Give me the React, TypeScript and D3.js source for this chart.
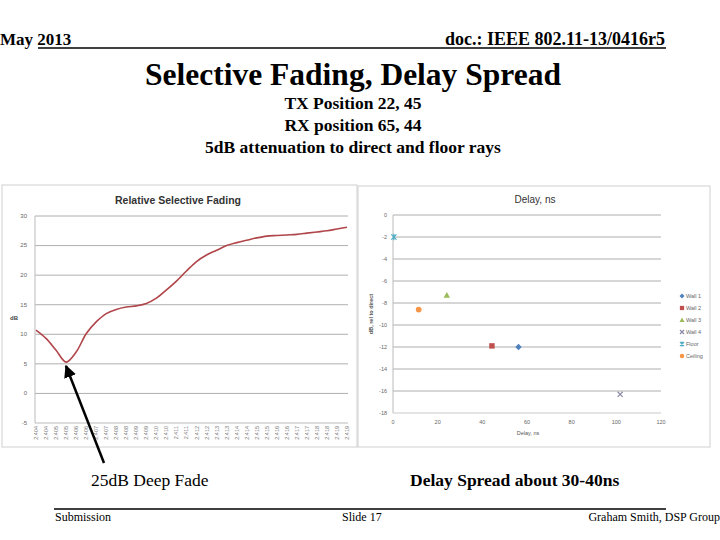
import * as d3 from "d3";

// Left chart: relative selective fading vs frequency (GHz)
const freqLabels = [
  "2.404", "2.404", "2.405", "2.405", "2.406", "2.406", "2.407", "2.407",
  "2.408", "2.408", "2.409", "2.409", "2.410", "2.410", "2.411", "2.411",
  "2.412", "2.412", "2.413", "2.413", "2.414", "2.414", "2.415", "2.415",
  "2.416", "2.416", "2.417", "2.417", "2.418", "2.418", "2.419", "2.419",
];
const fadingDb = [
  10.7, 9.3, 7.3, 5.3, 7.0, 10.1, 12.1, 13.5, 14.2, 14.6, 14.8, 15.2,
  16.1, 17.5, 19.0, 20.7, 22.3, 23.4, 24.2, 25.0, 25.5, 25.9, 26.3, 26.6,
  26.7, 26.8, 26.9, 27.1, 27.3, 27.5, 27.8, 28.1,
];
const fadingTicks = [30, 25, 20, 15, 10, 5, 0, -5];

// Right chart: ray delay vs relative level
const rayNames = ["Wall 1", "Wall 2", "Wall 3", "Wall 4", "Floor", "Ceiling"];
const rayDelay = [56.2, 44.3, 24.1, 101.7, 0.4, 11.5];
const rayLevel = [-12.0, -11.9, -7.3, -16.3, -2.0, -8.6];
const rayColors = ["#4f81bd", "#c0504d", "#9bbb59", "#8a8aa8", "#4bacc6", "#f79646"];
const rayShapes = ["diamond", "square", "triangle", "x", "star", "circle"];
const delayTicks = [0, 20, 40, 60, 80, 100, 120];
const levelTicks = [0, -2, -4, -6, -8, -10, -12, -14, -16, -18];

const serif = "'Liberation Serif', 'Times New Roman', serif";
const sans = "'Liberation Sans', Arial, sans-serif";

function Marker({ shape, x, y, color, s = 4 }: { shape: string; x: number; y: number; color: string; s?: number }) {
  if (shape === "diamond") {
    return <path d={`M${x},${y - s}L${x + s},${y}L${x},${y + s}L${x - s},${y}Z`} fill={color} />;
  }
  if (shape === "square") {
    return <rect x={x - s * 0.85} y={y - s * 0.85} width={s * 1.7} height={s * 1.7} fill={color} />;
  }
  if (shape === "triangle") {
    return <path d={`M${x},${y - s}L${x + s},${y + s * 0.8}L${x - s},${y + s * 0.8}Z`} fill={color} />;
  }
  if (shape === "x") {
    return (
      <path d={`M${x - s * 0.8},${y - s * 0.8}L${x + s * 0.8},${y + s * 0.8}M${x + s * 0.8},${y - s * 0.8}L${x - s * 0.8},${y + s * 0.8}`}
        stroke={color} strokeWidth={1.2} />
    );
  }
  if (shape === "star") {
    return (
      <path d={`M${x - s * 0.8},${y - s * 0.8}L${x + s * 0.8},${y + s * 0.8}M${x + s * 0.8},${y - s * 0.8}L${x - s * 0.8},${y + s * 0.8}M${x},${y - s}L${x},${y + s}`}
        stroke={color} strokeWidth={1.2} />
    );
  }
  return <circle cx={x} cy={y} r={s * 0.9} fill={color} />;
}

function FadingChart() {
  const x = d3.scalePoint<number>().domain(d3.range(fadingDb.length)).range([36, 347]);
  const y = d3.scaleLinear().domain([-5, 30]).range([423, 216]);
  const line = d3.line<number>()
    .x((_, i) => x(i)!)
    .y((d) => y(d))
    .curve(d3.curveCatmullRom);

  return (
    <g>
      <rect x={2} y={185} width={355} height={262} fill="white" stroke="#d0d0d0" />
      <text x={178} y={204} textAnchor="middle" fontFamily={sans} fontWeight="bold" fontSize={10.5} fill="#333">
        Relative Selective Fading
      </text>
      {fadingTicks.map((t) => (
        <g key={t}>
          {t !== -5 && <line x1={35} x2={348} y1={y(t)} y2={y(t)} stroke="#9a9a9a" strokeWidth={0.8} />}
          <text x={27} y={y(t)} dy="0.32em" textAnchor="end" fontFamily={sans} fontSize={6} fill="#666">{t}</text>
        </g>
      ))}
      <line x1={35} x2={35} y1={216} y2={423} stroke="#bbb" />
      <line x1={35} x2={348} y1={423} y2={423} stroke="#bbb" />
      <text x={14} y={320} textAnchor="middle" fontFamily={sans} fontSize={6} fontWeight="bold" fill="#444">dB</text>
      {freqLabels.map((lab, i) => (
        <text key={i} transform={`translate(${x(i)! + 2},${426}) rotate(-90)`} textAnchor="end"
          fontFamily={sans} fontSize={5.5} fill="#777">{lab}</text>
      ))}
      <path d={line(fadingDb) ?? ""} fill="none" stroke="#b0454a" strokeWidth={1.6} />
    </g>
  );
}

function DelayChart() {
  const x = d3.scaleLinear().domain([0, 120]).range([393, 661]);
  const y = d3.scaleLinear().domain([-18, 0]).range([413, 215]);

  return (
    <g>
      <rect x={358} y={186} width={352} height={261} fill="white" stroke="#d0d0d0" />
      <text x={535} y={203} textAnchor="middle" fontFamily={sans} fontSize={10} fill="#333">Delay, ns</text>
      {levelTicks.map((t) => (
        <g key={t}>
          <line x1={x(0)} x2={x(120)} y1={y(t)} y2={y(t)} stroke={t === -18 ? "#bbb" : "#9a9a9a"} strokeWidth={0.8} />
          <text x={387} y={y(t)} dy="0.32em" textAnchor="end" fontFamily={sans} fontSize={5.5} fill="#666">{t}</text>
        </g>
      ))}
      <line x1={x(0)} x2={x(0)} y1={215} y2={413} stroke="#bbb" />
      {delayTicks.map((t) => (
        <text key={t} x={x(t)} y={424} textAnchor="middle" fontFamily={sans} fontSize={5.5} fill="#666">{t}</text>
      ))}
      <text x={528} y={435} textAnchor="middle" fontFamily={sans} fontSize={5.5} fill="#555">Delay, ns</text>
      <text transform={`translate(373,314) rotate(-90)`} textAnchor="middle" fontFamily={sans} fontSize={5.5}
        fontWeight="bold" fill="#555">dB, rel to direct</text>
      {rayNames.map((name, i) => (
        <Marker key={name} shape={rayShapes[i]} x={x(rayDelay[i])} y={y(rayLevel[i])} color={rayColors[i]} s={3.2} />
      ))}
      {rayNames.map((name, i) => (
        <g key={name} transform={`translate(682,${296 + i * 12})`}>
          <Marker shape={rayShapes[i]} x={0} y={0} color={rayColors[i]} s={2.5} />
          <text x={4} y={0} dy="0.32em" fontFamily={sans} fontSize={5.5} fill="#666">{name}</text>
        </g>
      ))}
    </g>
  );
}

export default function App() {
  return (
    <svg width={720} height={540} style={{ position: "absolute", left: 0, top: 0, background: "white" }}>
      <defs>
        <marker id="arrowHead" viewBox="0 0 10 10" refX="9" refY="5" markerWidth="5" markerHeight="5" orient="auto">
          <path d="M0,0L10,5L0,10Z" fill="black" />
        </marker>
      </defs>
      <text x={0} y={45} fontFamily={serif} fontWeight="bold" fontSize={17}>May 2013</text>
      <text x={665} y={45} textAnchor="end" fontFamily={serif} fontWeight="bold" fontSize={18}>doc.: IEEE 802.11-13/0416r5</text>
      <line x1={38} x2={666} y1={48} y2={48} stroke="black" strokeWidth={1.5} />
      <text x={353} y={85} textAnchor="middle" fontFamily={serif} fontWeight="bold" fontSize={31.5}>Selective Fading, Delay Spread</text>
      <text x={353} y={109} textAnchor="middle" fontFamily={serif} fontWeight="bold" fontSize={17.5}>TX Position 22, 45</text>
      <text x={353} y={131} textAnchor="middle" fontFamily={serif} fontWeight="bold" fontSize={17.5}>RX position 65, 44</text>
      <text x={353} y={153} textAnchor="middle" fontFamily={serif} fontWeight="bold" fontSize={17.5}>5dB attenuation to direct and floor rays</text>

      <FadingChart />
      <DelayChart />

      <line x1={104} y1={463} x2={66} y2={366} stroke="black" strokeWidth={2.5} markerEnd="url(#arrowHead)" />

      <text x={91} y={486} fontFamily={serif} fontSize={17.5}>25dB Deep Fade</text>
      <text x={410} y={486} fontFamily={serif} fontWeight="bold" fontSize={17.5}>Delay Spread about 30-40ns</text>
      <line x1={54} x2={666} y1={509} y2={509} stroke="black" strokeWidth={1.5} />
      <text x={55} y={521} fontFamily={serif} fontSize={12}>Submission</text>
      <text x={342} y={521} fontFamily={serif} fontSize={12}>Slide 17</text>
      <text x={720} y={521} textAnchor="end" fontFamily={serif} fontSize={12}>Graham Smith, DSP Group</text>
    </svg>
  );
}
